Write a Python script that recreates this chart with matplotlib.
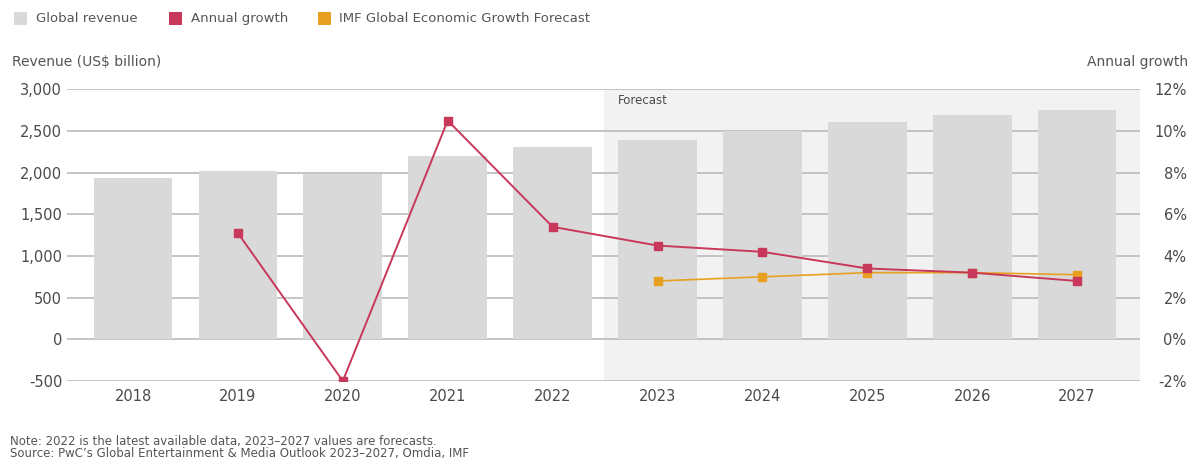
import matplotlib
matplotlib.use("Agg")
import matplotlib.pyplot as plt
from matplotlib.patches import Rectangle

plt.rcParams['font.family'] = ['DejaVu Sans']

years = ['2018', '2019', '2020', '2021', '2022', '2023', '2024', '2025', '2026', '2027']
revenue = [1930, 2015, 1985, 2195, 2305, 2395, 2505, 2605, 2695, 2755]
growth_years = ['2019', '2020', '2021', '2022', '2023', '2024', '2025', '2026', '2027']
growth = [5.1, -2.0, 10.5, 5.4, 4.5, 4.2, 3.4, 3.2, 2.8]
imf_years = ['2023', '2024', '2025', '2026', '2027']
imf = [2.8, 3.0, 3.2, 3.2, 3.1]
left_ticks = [-500, 0, 500, 1000, 1500, 2000, 2500, 3000]
right_ticks = [-2, 0, 2, 4, 6, 8, 10, 12]

BAR = '#d9d9d9'
SHADE = '#f2f2f2'
RED = '#c8385a'
ORANGE = '#e8a020'
TXT = '#4a4a4a'
W, H = 1195, 466

fig = plt.figure(figsize=(W / 100, H / 100), dpi=100)
ax = fig.add_axes([67 / W, 1 - 381 / H, (1140 - 67) / W, (381 - 89.3) / H])
x = list(range(len(years)))
pos = {y: i for i, y in enumerate(years)}

x0 = (67 - 133) / 104.9
x1 = (1140 - 133) / 104.9
ax.set_xlim(x0, x1)
ax.set_ylim(-500, 3000)
ax.add_patch(Rectangle((4.49, -500), x1 - 4.49, 3500, facecolor=SHADE, edgecolor='none', zorder=0))
ax.set_yticks(left_ticks)
ax.set_yticklabels([f'{v:,}' for v in left_ticks])
ax.grid(axis='y', color='#b5b5b5', linewidth=1.1, zorder=1)
ax.set_axisbelow(True)
ax.bar(x, revenue, width=0.75, color=BAR, zorder=2)
ax.set_xticks(x)
ax.set_xticklabels(years)
for s in ax.spines.values():
    s.set_visible(False)
ax.tick_params(axis='both', length=0, colors=TXT, labelsize=10.5)
ax.tick_params(axis='y', pad=3.5)
ax.tick_params(axis='x', pad=6)

ax2 = ax.twinx()
ax2.set_ylim(-2, 12)
ax2.set_yticks(right_ticks)
ax2.set_yticklabels([f'{v}%' for v in right_ticks])
for lbl in ax2.get_yticklabels():
    lbl.set_horizontalalignment('right')
ax2.tick_params(axis='y', length=0, colors=TXT, labelsize=10.5, pad=33.5)
for s in ax2.spines.values():
    s.set_visible(False)
ax2.plot([pos[y] for y in imf_years], imf, color=ORANGE, marker='s', markersize=6, linewidth=1.2, zorder=3)
ax2.plot([pos[y] for y in growth_years], growth, color=RED, marker='s', markersize=6, linewidth=1.4, zorder=4)

ax.text(4.62, 2870, 'Forecast', fontsize=8.5, color=TXT, va='center', ha='left', zorder=5)

# Legend
def leg_item(xp, tx, color, label):
    fig.patches.append(Rectangle((xp / W, 1 - 25 / H), 13 / W, 13 / H,
                                 transform=fig.transFigure, facecolor=color, edgecolor='none'))
    fig.text(tx / W, 1 - 18.5 / H, label, fontsize=9.5, color='#555555', va='center', ha='left')

leg_item(14, 36, BAR, 'Global revenue')
leg_item(169, 191, RED, 'Annual growth')
leg_item(318, 339, ORANGE, 'IMF Global Economic Growth Forecast')

fig.text(12 / W, 1 - 62 / H, 'Revenue (US$ billion)', fontsize=10, color='#555555', va='center', ha='left')
fig.text(1188 / W, 1 - 62 / H, 'Annual growth', fontsize=10, color='#555555', va='center', ha='right')

fig.text(10 / W, 1 - 441 / H, 'Note: 2022 is the latest available data, 2023\u20132027 values are forecasts.',
         fontsize=8.5, color='#555555', va='center', ha='left')
fig.text(10 / W, 1 - 453 / H, 'Source: PwC\u2019s Global Entertainment & Media Outlook 2023\u20132027, Omdia, IMF',
         fontsize=8.5, color='#555555', va='center', ha='left')

fig.savefig('out.png', dpi=100)
